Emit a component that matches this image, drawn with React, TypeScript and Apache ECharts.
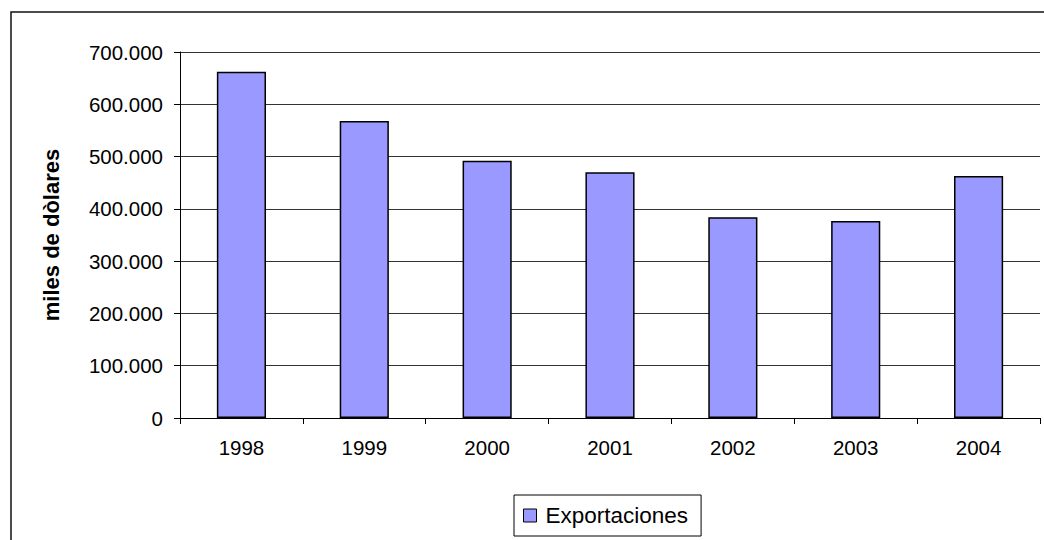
import React, { useEffect, useRef } from "react";
import * as echarts from "echarts";

const years = ["1998", "1999", "2000", "2001", "2002", "2003", "2004"];
const exportaciones = [662000, 568000, 492000, 470000, 384000, 377000, 463000];
const seriesName = "Exportaciones";
const yAxisTitle = "miles de dòlares";

function fmt(v: number): string {
  return String(Math.round(v)).replace(/\B(?=(\d{3})+(?!\d))/g, ".");
}

export default function App() {
  const ref = useRef<HTMLDivElement>(null);
  useEffect(() => {
    if (!ref.current) return;
    const chart = echarts.init(ref.current, undefined, { renderer: "svg" });
    const font = "Arial, 'Liberation Sans', sans-serif";
    chart.setOption({
      animation: false,
      backgroundColor: "#ffffff",
      textStyle: { fontFamily: font },
      graphic: [
        {
          type: "rect",
          shape: { x: 11, y: 12, width: 1200, height: 700 },
          style: { fill: "none", stroke: "#111", lineWidth: 1.5 },
          silent: true,
        },
      ],
      grid: { left: 180, right: 4, top: 52, bottom: 122 },
      legend: {
        data: [seriesName],
        left: 514,
        top: 495,
        padding: [9, 13, 9, 9],
        borderColor: "#000",
        borderWidth: 1,
        itemWidth: 13,
        itemHeight: 13,
        icon: "rect",
        itemStyle: { borderColor: "#000", borderWidth: 1 },
        textStyle: { fontSize: 22.5, color: "#000", fontFamily: font, padding: [0, 0, 0, 4] },
      },
      xAxis: {
        type: "category",
        data: years,
        boundaryGap: true,
        axisLine: { lineStyle: { color: "#000", width: 1 } },
        axisTick: { show: true, length: 6, lineStyle: { color: "#000" } },
        axisLabel: { fontSize: 20.5, color: "#000", margin: 19, fontFamily: font },
        splitLine: { show: false },
      },
      yAxis: {
        type: "value",
        min: 0,
        max: 700000,
        interval: 100000,
        name: yAxisTitle,
        nameLocation: "middle",
        nameGap: 118,
        nameRotate: 90,
        nameTextStyle: { fontSize: 22, fontWeight: "bold", color: "#000", fontFamily: font },
        axisLine: { show: true, lineStyle: { color: "#000", width: 1 } },
        axisTick: { show: true, length: 6, lineStyle: { color: "#000" } },
        axisLabel: { fontSize: 20.5, color: "#000", margin: 17, formatter: (v: number) => fmt(v), fontFamily: font },
        splitLine: { show: true, lineStyle: { color: "#333", width: 1 } },
      },
      series: [
        {
          name: seriesName,
          type: "bar",
          data: exportaciones,
          barCategoryGap: "60%",
          itemStyle: { color: "#9999FF", borderColor: "#000", borderWidth: 1.5 },
        },
      ],
    });
    return () => chart.dispose();
  }, []);
  return (
    <div
      ref={ref}
      style={{ position: "fixed", left: 0, top: 0, width: 1044, height: 540 }}
    />
  );
}
